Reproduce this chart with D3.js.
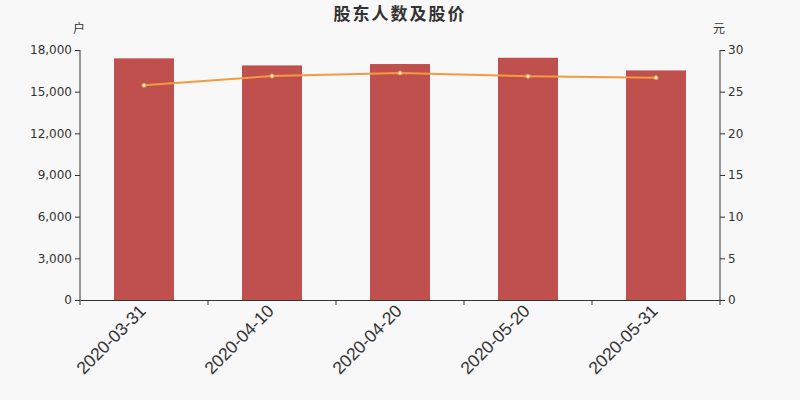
<!DOCTYPE html>
<html><head><meta charset="utf-8">
<script src="https://cdn.jsdelivr.net/npm/d3@7"></script>
<style>
html,body{margin:0;padding:0;background:#f8f8f8;}
svg{display:block;font-family:"DejaVu Sans",sans-serif;}
</style></head>
<body><svg id="c" width="800" height="400"></svg>
<script>
const categories = ["2020-03-31","2020-04-10","2020-04-20","2020-05-20","2020-05-31"];
const holders = [17400, 16890, 16990, 17440, 16530];
const prices = [25.76, 26.88, 27.24, 26.84, 26.68];
const leftTicks = [0,3000,6000,9000,12000,15000,18000];
const rightTicks = [0,5,10,15,20,25,30];
const title = "股东人数及股价";
const leftUnit = "户", rightUnit = "元";

const svg = d3.select("#c");
const m = {l:80, r:720, t:50, b:300};
svg.append("rect").attr("width",800).attr("height",400).attr("fill","#f8f8f8");

const x = d3.scaleBand().domain(categories).range([m.l,m.r]);
const yL = d3.scaleLinear().domain([0,18000]).range([m.b,m.t]);
const yR = d3.scaleLinear().domain([0,30]).range([m.b,m.t]);
const barW = 60;

svg.append("text").attr("x",400).attr("y",20).attr("text-anchor","middle")
  .attr("font-size",17).attr("font-weight","bold").attr("fill","#333")
  .attr("letter-spacing",2).attr("font-family","'Noto Sans CJK SC',sans-serif").text(title);
svg.append("text").attr("x",79).attr("y",33).attr("text-anchor","middle")
  .attr("font-size",12).attr("fill","#333").attr("font-family","'Noto Sans CJK SC',sans-serif").text(leftUnit);
svg.append("text").attr("x",719).attr("y",33).attr("text-anchor","middle")
  .attr("font-size",12).attr("fill","#333").attr("font-family","'Noto Sans CJK SC',sans-serif").text(rightUnit);

svg.append("g").selectAll("rect").data(holders).join("rect")
  .attr("x",(d,i)=>x(categories[i])+x.bandwidth()/2-barW/2)
  .attr("y",d=>yL(d)).attr("width",barW).attr("height",d=>m.b-yL(d))
  .attr("fill","#c0504d");

const axL = d3.axisLeft(yL).tickValues(leftTicks).tickFormat(d3.format(",")).tickSize(5).tickPadding(3);
const gL = svg.append("g").attr("transform",`translate(${m.l},0)`).call(axL);
const axR = d3.axisRight(yR).tickValues(rightTicks).tickSize(5).tickPadding(3);
const gR = svg.append("g").attr("transform",`translate(${m.r},0)`).call(axR);
const axX = d3.axisBottom(x).tickSize(0).tickFormat("");
const gX = svg.append("g").attr("transform",`translate(0,${m.b})`).call(axX);
gX.selectAll(".bt").data(d3.range(categories.length+1)).join("line")
  .attr("x1",i=>m.l+i*x.step()).attr("x2",i=>m.l+i*x.step())
  .attr("y1",0).attr("y2",5).attr("stroke","#333");
gX.selectAll(".lbl").data(categories).join("text")
  .attr("transform",d=>`translate(${x(d)+x.bandwidth()/2+3},${12}) rotate(-45)`)
  .attr("text-anchor","end").attr("font-size",17.5).attr("fill","#333").text(d=>d);

[gL,gR,gX].forEach(g=>{
  g.selectAll("path.domain").attr("stroke","#333");
  g.selectAll(".tick line").attr("stroke","#333");
  g.selectAll(".tick text").attr("fill","#333").attr("font-size",12).attr("font-family","'DejaVu Sans',sans-serif");
});
gL.select("path.domain").attr("d",`M0,${m.t}V${m.b}`);
gR.select("path.domain").attr("d",`M0,${m.t}V${m.b}`);

const line = d3.line().x((d,i)=>x(categories[i])+x.bandwidth()/2).y(d=>yR(d));
svg.append("path").datum(prices).attr("d",line).attr("fill","none")
  .attr("stroke","#f59a3f").attr("stroke-width",2);
svg.append("g").selectAll("circle").data(prices).join("circle")
  .attr("cx",(d,i)=>x(categories[i])+x.bandwidth()/2).attr("cy",d=>yR(d))
  .attr("r",2).attr("fill","#fff").attr("stroke","#f59a3f").attr("stroke-width",1);
</script></body></html>
